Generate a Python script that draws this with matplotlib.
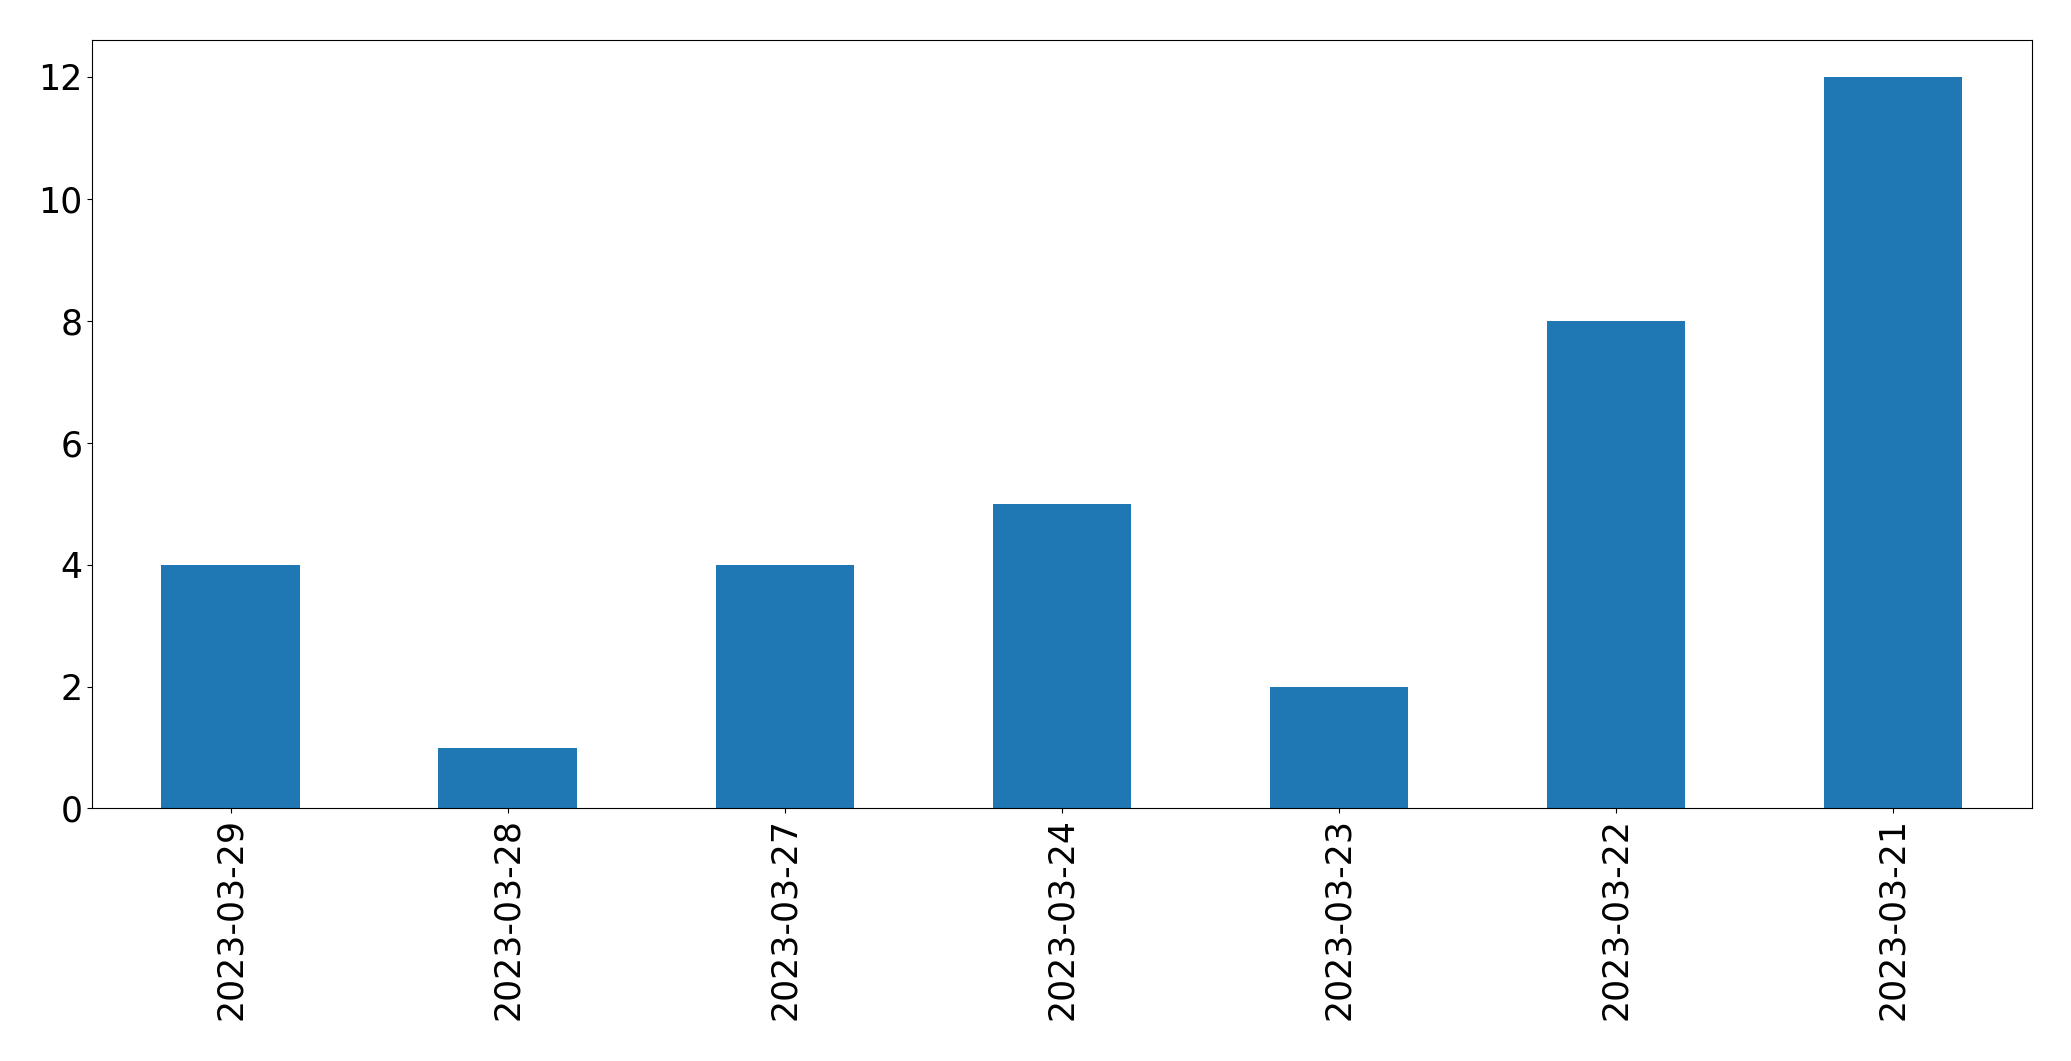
import pandas as pd
import matplotlib
matplotlib.use("Agg")
import matplotlib.pyplot as plt

dates = ["2023-03-29", "2023-03-28", "2023-03-27", "2023-03-24",
         "2023-03-23", "2023-03-22", "2023-03-21"]
counts = [4, 1, 4, 5, 2, 8, 12]

s = pd.Series(counts, index=dates)

fig, ax = plt.subplots(figsize=(20.71, 10.61), dpi=100)
s.plot(kind="bar", ax=ax, color="#1f77b4")
ax.tick_params(axis="both", labelsize=25)
fig.subplots_adjust(left=0.0445, right=0.981, top=0.962, bottom=0.238)
fig.savefig("out.png", dpi=100)
